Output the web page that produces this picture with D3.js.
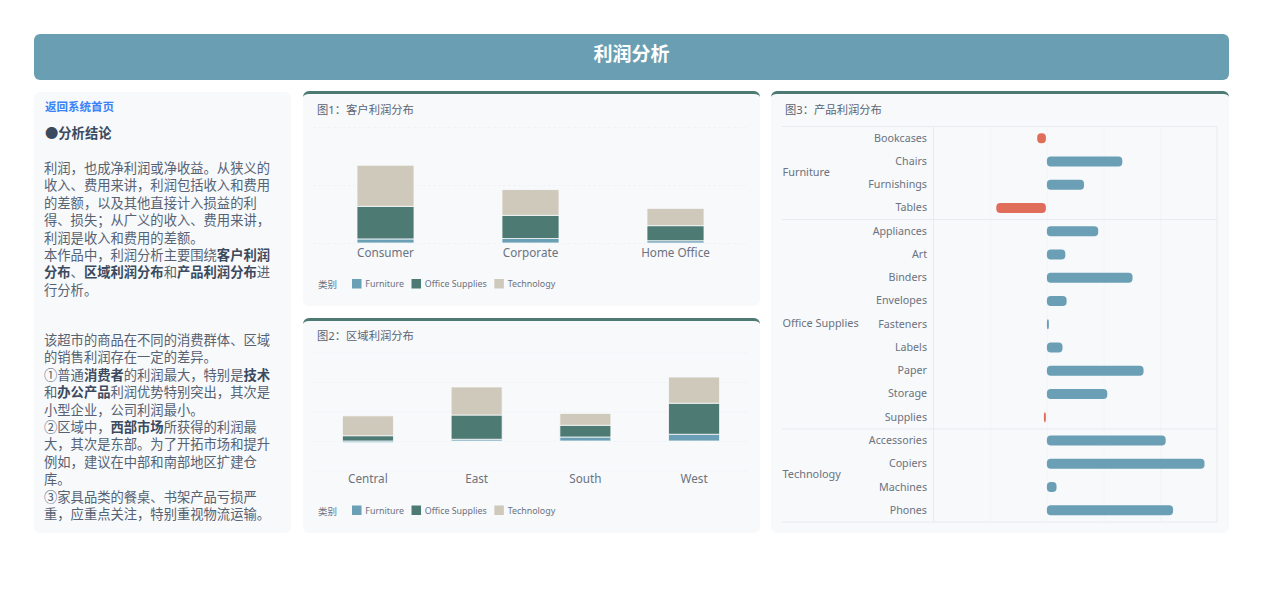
<!DOCTYPE html>
<html>
<head>
<meta charset="utf-8">
<script src="https://cdn.jsdelivr.net/npm/d3@7"></script>
<style>
  * { box-sizing: border-box; }
  body { margin: 0; background: #fff; font-family: 'Noto Sans', 'Noto Sans CJK SC', sans-serif; overflow: hidden; }
  .header {
    position: absolute; left: 34px; top: 34px; width: 1195px; height: 45.5px;
    background: #6a9fb3; border-radius: 6px; color: #fff;
    font-size: 19px; font-weight: 700; text-align: center; line-height: 41px;
  }
  .card { position: absolute; background: #f7f9fb; border-radius: 6px; }
  .chart { border-top: 3.5px solid #4e7a74; }
  .chart svg { position: absolute; left: 0; top: -3.5px; }
  #side { left: 34px; top: 92px; width: 257px; height: 441px; }
  #c1 { left: 303px; top: 91px; width: 457px; height: 215px; }
  #c2 { left: 303px; top: 318px; width: 457px; height: 215px; }
  #c3 { left: 771px; top: 91px; width: 458px; height: 442px; }
  .back { position: absolute; left: 11px; top: 6px; font-size: 11.5px; font-weight: 700; color: #3b82f6; }
  .concl { position: absolute; left: 11px; top: 31px; font-size: 13.3px; font-weight: 700; color: #3b4a5e; }
  .body {
    position: absolute; left: 10px; width: 229px;
    font-size: 13.3px; line-height: 17.4px; color: #566273;
  }
  .body b { color: #3b4a5e; }
  #intro { top: 68px; }
  #points { top: 240px; }
  text { font-family: 'Noto Sans', 'Noto Sans CJK SC', sans-serif; }
  .domain { display: none; }
</style>
</head>
<body>
<div class="header">利润分析</div>
<div class="card" id="side">
  <div class="back">返回系统首页</div>
  <div class="concl">●分析结论</div>
  <div class="body" id="intro">
    利润，也成净利润或净收益。从狭义的收入、费用来讲，利润包括收入和费用的差额，以及其他直接计入损益的利得、损失；从广义的收入、费用来讲，利润是收入和费用的差额。<br>
    本作品中，利润分析主要围绕<b>客户利润分布</b>、<b>区域利润分布</b>和<b>产品利润分布</b>进行分析。
  </div>
  <div class="body" id="points">
    该超市的商品在不同的消费群体、区域的销售利润存在一定的差异。<br>
    ①普通<b>消费者</b>的利润最大，特别是<b>技术</b>和<b>办公产品</b>利润优势特别突出，其次是小型企业，公司利润最小。<br>
    ②区域中，<b>西部市场</b>所获得的利润最大，其次是东部。为了开拓市场和提升例如，建议在中部和南部地区扩建仓库。<br>
    ③家具品类的餐桌、书架产品亏损严重，应重点关注，特别重视物流运输。
  </div>
</div>
<div class="card chart" id="c1"></div>
<div class="card chart" id="c2"></div>
<div class="card chart" id="c3"></div>

<script>
// Data
const categories = ['Furniture', 'Office Supplies', 'Technology'];

const segments = ['Consumer', 'Corporate', 'Home Office'];
const segFurniture = [6990, 7580, 3880];
const segOffice = [56300, 40200, 25900];
const segTech = [70800, 44200, 30000];

const regions = ['Central', 'East', 'South', 'West'];
const regFurniture = [-2870, 3050, 6770, 11500];
const regOffice = [8880, 41000, 20000, 52600];
const regTech = [33700, 47500, 20000, 44300];

const products = ['Bookcases', 'Chairs', 'Furnishings', 'Tables',
  'Appliances', 'Art', 'Binders', 'Envelopes', 'Fasteners', 'Labels', 'Paper', 'Storage', 'Supplies',
  'Accessories', 'Copiers', 'Machines', 'Phones'];
const productProfit = [-3060, 26600, 13100, -17500,
  18100, 6500, 30200, 6960, 700, 5500, 34100, 21300, -700,
  41900, 55600, 3400, 44500];
const productGroups = ['Furniture', 'Furniture', 'Furniture', 'Furniture',
  'Office Supplies', 'Office Supplies', 'Office Supplies', 'Office Supplies', 'Office Supplies',
  'Office Supplies', 'Office Supplies', 'Office Supplies', 'Office Supplies',
  'Technology', 'Technology', 'Technology', 'Technology'];

const colors = ['#6a9fb5', '#4e7a74', '#cfc9bc'];
const red = '#e06c5a';
const textColor = '#6b7280';
const gridColor = '#f1f3f6';

const renderStacked = (id, title, labels, series, domain, ticks, box, barW) => {
  const card = d3.select(id);
  const w = card.node().offsetWidth;
  const h = card.node().offsetHeight;
  const svg = card.append('svg').attr('width', w).attr('height', h);

  svg.append('text').attr('x', 14).attr('y', box.titleY)
    .attr('font-size', 11.3).attr('fill', '#5b6472').text(title);

  const x = d3.scaleBand().domain(labels).range([box.left, box.right]);
  const y = d3.scaleLinear().domain(domain).range([box.bottom, box.top]);

  // grid lines
  svg.append('g')
    .attr('transform', `translate(${box.left},0)`)
    .call(d3.axisLeft(y).tickValues(ticks).tickSize(-(box.right - box.left)).tickFormat(''))
    .call((g) => g.selectAll('line').attr('stroke', gridColor).attr('stroke-dasharray', '3 2'));

  // x labels, under the plot
  svg.append('g')
    .attr('transform', `translate(0,${box.axisY})`)
    .call(d3.axisBottom(x).tickSize(0).tickPadding(box.pad))
    .call((g) => g.selectAll('text').attr('font-size', 11.7).attr('fill', textColor).attr('font-family', null));

  // Stacked bars, negative values go below zero
  labels.forEach((label, i) => {
    let pos = 0;
    let neg = 0;
    series.forEach((values, s) => {
      const v = values[i];
      const from = v >= 0 ? pos : neg + v;
      const to = v >= 0 ? pos + v : neg;
      if (v >= 0) pos += v; else neg += v;
      svg.append('rect')
        .attr('x', x(label) + (x.bandwidth() - barW) / 2)
        .attr('width', barW)
        .attr('y', y(to))
        .attr('height', Math.max(y(from) - y(to), 0))
        .attr('fill', colors[s])
        .attr('stroke', '#f7f9fb')
        .attr('stroke-width', 0.8);
    });
  });

  // Legend
  const ly = box.legendY;
  svg.append('text').attr('x', 15).attr('y', ly + 4)
    .attr('font-size', 9.5).attr('fill', textColor).text('类别');
  let lx = 49;
  categories.forEach((c, i) => {
    svg.append('rect').attr('x', lx).attr('y', ly - 5).attr('width', 9.5).attr('height', 9.5).attr('fill', colors[i]);
    const t = svg.append('text').attr('x', lx + 13.3).attr('y', ly + 3.2)
      .attr('font-size', 8.9).attr('fill', textColor).text(c);
    lx += 13.3 + t.node().getComputedTextLength() + 7.5;
  });
};

renderStacked('#c1', '图1：客户利润分布', segments, [segFurniture, segOffice, segTech],
  [0, 200000], [0, 100000, 200000],
  { left: 10, right: 445, top: 36, bottom: 152, axisY: 153, pad: 5, legendY: 193, titleY: 23 }, 57);

renderStacked('#c2', '图2：区域利润分布', regions, [regFurniture, regOffice, regTech],
  [-50000, 150000], [-50000, 0, 50000, 100000, 150000],
  { left: 10.5, right: 445.5, top: 34.5, bottom: 152.5, axisY: 152, pad: 4.5, legendY: 192.5, titleY: 21.5 }, 51);

// Figure 3: grouped horizontal bars
const renderProducts = () => {
  const card = d3.select('#c3');
  const w = card.node().offsetWidth;
  const h = card.node().offsetHeight;
  const svg = card.append('svg').attr('width', w).attr('height', h);

  svg.append('text').attr('x', 14).attr('y', 23)
    .attr('font-size', 11.3).attr('fill', '#5b6472').text('图3：产品利润分布');

  const left = 11;
  const plotL = 162.5;
  const plotR = 446;
  const top = 35.5;
  const bottom = 431;

  const x = d3.scaleLinear().domain([-40000, 60000]).range([plotL, plotR]);
  const y = d3.scaleBand().domain(products).range([top, bottom]);

  // vertical grid
  svg.append('g')
    .attr('transform', `translate(0,${bottom})`)
    .call(d3.axisBottom(x).tickValues([-20000, 0, 20000, 40000]).tickSize(-(bottom - top)).tickFormat(''))
    .call((g) => g.selectAll('line').attr('stroke', '#f2f4f6'));

  // frame lines
  const frame = svg.append('g').attr('stroke', '#e8ebef');
  frame.append('line').attr('x1', left).attr('x2', plotR).attr('y1', top).attr('y2', top);
  frame.append('line').attr('x1', left).attr('x2', plotR).attr('y1', bottom).attr('y2', bottom);
  frame.append('line').attr('x1', plotL).attr('x2', plotL).attr('y1', top).attr('y2', bottom);
  frame.append('line').attr('x1', plotR).attr('x2', plotR).attr('y1', top).attr('y2', bottom);

  // Group labels and separators
  const groups = d3.groups(products.map((p, i) => ({ p, g: productGroups[i] })), (d) => d.g);
  groups.forEach(([name, rows], i) => {
    const first = y(rows[0].p);
    const last = y(rows[rows.length - 1].p) + y.bandwidth();
    if (i > 0) frame.append('line').attr('x1', left).attr('x2', plotR).attr('y1', first).attr('y2', first);
    svg.append('text').attr('x', left + 0.5).attr('y', (first + last) / 2 - 1)
      .attr('dy', '0.35em').attr('font-size', 10.9).attr('fill', textColor).text(name);
  });

  // Product labels
  svg.append('g')
    .attr('transform', `translate(${plotL},0)`)
    .call(d3.axisLeft(y).tickSize(0).tickPadding(6.5))
    .call((g) => g.selectAll('text').attr('font-size', 10.7).attr('fill', textColor).attr('font-family', null));

  // Bars, the negative ones stop just short of zero
  svg.selectAll('.bar')
    .data(products)
    .enter()
    .append('rect')
    .attr('class', 'bar')
    .attr('x', (d, i) => x(Math.min(productProfit[i], 0)) - (productProfit[i] < 0 ? 1 : 0))
    .attr('y', (d) => y(d) + (y.bandwidth() - 10) / 2)
    .attr('width', (d, i) => Math.abs(x(productProfit[i]) - x(0)))
    .attr('height', 10)
    .attr('rx', 4)
    .attr('fill', (d, i) => (productProfit[i] < 0 ? red : colors[0]));
};

renderProducts();
</script>
</body>
</html>
